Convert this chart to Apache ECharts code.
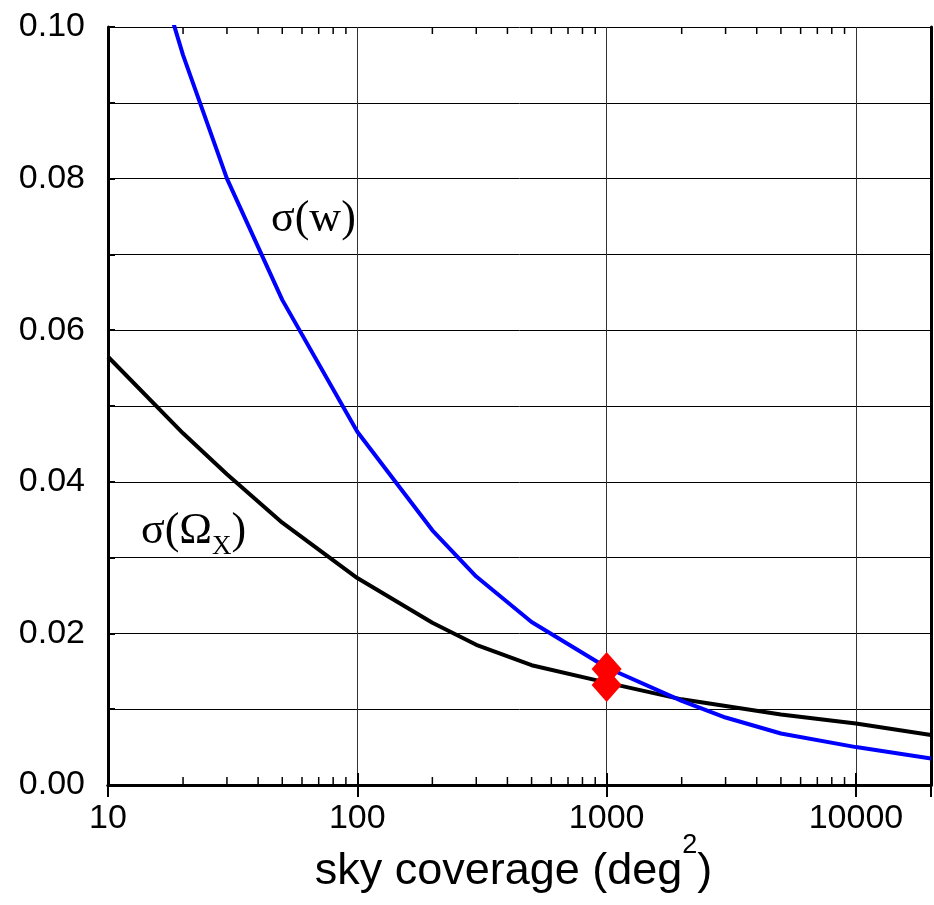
<!DOCTYPE html>
<html>
<head>
<meta charset="utf-8">
<title>sky coverage</title>
<script src="https://cdn.jsdelivr.net/npm/echarts@6.0.0/dist/echarts.min.js"></script>
<style>
  html, body { margin: 0; padding: 0; background: #fff; }
  #chart { width: 934px; height: 905px; }
</style>
</head>
<body>
<div id="chart"></div>
<script>
// Survey area in square degrees
const skyCoverage = [10, 20, 30, 50, 100, 200, 300, 500, 1000, 2000, 3000, 5000, 10000, 20000];

// Uncertainty on the equation of state parameter w
const sigmaW = [0.129, 0.0963, 0.0800, 0.0640, 0.0466, 0.0336, 0.0275, 0.0215, 0.0155, 0.0111, 0.0089, 0.0068, 0.0050, 0.0035];

// Uncertainty on the density parameter Omega_X
const omegaCoverage = [10, 20, 30, 50, 100, 200, 300, 500, 1000, 2000, 5000, 10000, 20000];
const sigmaOmega = [0.0565, 0.0464, 0.0410, 0.0346, 0.0273, 0.0214, 0.0185, 0.0158, 0.0135, 0.0113, 0.0093, 0.0081, 0.0066];

// Highlighted survey at 1000 deg^2
const markerCoverage = [1000, 1000];
const markerSigma = [0.0153, 0.0132];

// Axis labelling
const xTickLabels = [10, 100, 1000, 10000];
const yTickLabels = ['0.00', '0.02', '0.04', '0.06', '0.08', '0.10'];
const xMinorTicks = [20, 30, 40, 50, 60, 70, 80, 90,
                     200, 300, 400, 500, 600, 700, 800, 900,
                     2000, 3000, 4000, 5000, 6000, 7000, 8000, 9000];

const SANS = '"Liberation Sans", Arial, Helvetica, sans-serif';
const SERIF = '"Liberation Serif", "Times New Roman", Times, serif';

const chart = echarts.init(document.getElementById('chart'), null, { renderer: 'canvas' });

const frameLine = { show: true, lineStyle: { color: '#000', width: 3 } };

const option = {
  backgroundColor: '#fff',
  animation: false,
  grid: {
    left: 108, right: 3, top: 27, bottom: 120,
    containLabel: false,
    outerBoundsMode: 'none'
  },
  xAxis: [
    {
      type: 'log',
      logBase: 10,
      min: 10,
      max: 20000,
      position: 'bottom',
      axisLine: frameLine,
      axisTick: { show: true, inside: true, length: 12, lineStyle: { color: '#000', width: 2 } },
      minorTick: { show: false },
      splitLine: { show: true, lineStyle: { color: '#333', width: 1 } },
      axisLabel: {
        show: true,
        margin: 17,
        color: '#000',
        fontFamily: SANS,
        fontSize: 34,
        hideOverlap: false,
        formatter: function (v) {
          const r = Math.round(v);
          return xTickLabels.indexOf(r) >= 0 ? String(r) : '';
        }
      },
      name: '{m|sky coverage (deg}{sup|2}{m|)}',
      nameLocation: 'middle',
      nameGap: 47,
      nameMoveOverlap: false,
      nameTextStyle: {
        color: '#000',
        padding: [0, 12, 0, 0],
        rich: {
          m: { fontFamily: SANS, fontSize: 45, color: '#000', lineHeight: 80, verticalAlign: 'middle' },
          sup: { fontFamily: SANS, fontSize: 27, color: '#000', lineHeight: 26, verticalAlign: 'top' }
        }
      }
    },
    {
      type: 'log',
      logBase: 10,
      min: 10,
      max: 20000,
      position: 'top',
      axisLine: frameLine,
      axisTick: { show: true, inside: true, length: 12, lineStyle: { color: '#000', width: 2 } },
      splitLine: { show: false },
      axisLabel: { show: false }
    }
  ],
  yAxis: [
    {
      type: 'value',
      min: 0,
      max: 0.1,
      interval: 0.01,
      position: 'left',
      axisLine: frameLine,
      axisTick: { show: true, inside: true, length: 7, lineStyle: { color: '#000', width: 2 } },
      splitLine: { show: true, lineStyle: { color: '#000', width: 1 } },
      axisLabel: {
        show: true,
        margin: 23,
        color: '#000',
        fontFamily: SANS,
        fontSize: 34,
        hideOverlap: false,
        formatter: function (v) {
          const s = v.toFixed(2);
          return yTickLabels.indexOf(s) >= 0 ? s : '';
        }
      }
    },
    {
      type: 'value',
      min: 0,
      max: 0.1,
      interval: 0.01,
      position: 'right',
      axisLine: frameLine,
      axisTick: { show: false },
      splitLine: { show: false },
      axisLabel: { show: false }
    }
  ],
  graphic: [
    {
      type: 'text',
      x: 271,
      y: 219,
      z: 10,
      style: {
        text: 'σ(w)',
        fontFamily: SERIF,
        fontSize: 44,
        fill: '#000',
        align: 'left',
        verticalAlign: 'middle'
      }
    },
    {
      type: 'text',
      x: 141,
      y: 531,
      z: 10,
      style: {
        text: '{m|σ(Ω}{sub|X}{m|)}',
        align: 'left',
        verticalAlign: 'middle',
        rich: {
          m: { fontFamily: SERIF, fontSize: 44, fill: '#000', lineHeight: 58, verticalAlign: 'middle' },
          sub: { fontFamily: SERIF, fontSize: 27, fill: '#000', lineHeight: 27, verticalAlign: 'bottom' }
        }
      }
    }
  ],
  series: [
    {
      // inward minor ticks at 2..9 of each decade, bottom and top of the frame
      type: 'custom',
      xAxisIndex: 0,
      yAxisIndex: 0,
      silent: true,
      clip: false,
      z: 4,
      data: xMinorTicks.map(function (v) { return [v, 0]; }),
      encode: { x: 0, y: 1 },
      renderItem: function (params, api) {
        const v = api.value(0);
        const pb = api.coord([v, 0]);
        const pt = api.coord([v, 0.1]);
        const st = { stroke: '#000', lineWidth: 1.5 };
        return {
          type: 'group',
          children: [
            { type: 'line', shape: { x1: pb[0], y1: pb[1], x2: pb[0], y2: pb[1] - 8 }, style: st },
            { type: 'line', shape: { x1: pt[0], y1: pt[1], x2: pt[0], y2: pt[1] + 7 }, style: st }
          ]
        };
      }
    },
    {
      name: 'sigma Omega_X',
      type: 'line',
      xAxisIndex: 0,
      yAxisIndex: 0,
      data: omegaCoverage.map(function (x, i) { return [x, sigmaOmega[i]]; }),
      showSymbol: false,
      symbol: 'none',
      smooth: false,
      clip: true,
      z: 2,
      lineStyle: { color: '#000', width: 4, join: 'round', cap: 'butt' }
    },
    {
      name: 'sigma w',
      type: 'line',
      xAxisIndex: 0,
      yAxisIndex: 0,
      data: skyCoverage.map(function (x, i) { return [x, sigmaW[i]]; }),
      showSymbol: false,
      symbol: 'none',
      smooth: false,
      clip: true,
      z: 3,
      lineStyle: { color: '#0000ff', width: 4, join: 'round', cap: 'butt' }
    },
    {
      name: 'survey',
      type: 'scatter',
      xAxisIndex: 0,
      yAxisIndex: 0,
      data: markerCoverage.map(function (x, i) { return [x, markerSigma[i]]; }),
      symbol: 'diamond',
      symbolSize: [30, 34],
      z: 5,
      itemStyle: { color: '#ff0000', opacity: 1 }
    }
  ]
};

chart.setOption(option);
</script>
</body>
</html>
